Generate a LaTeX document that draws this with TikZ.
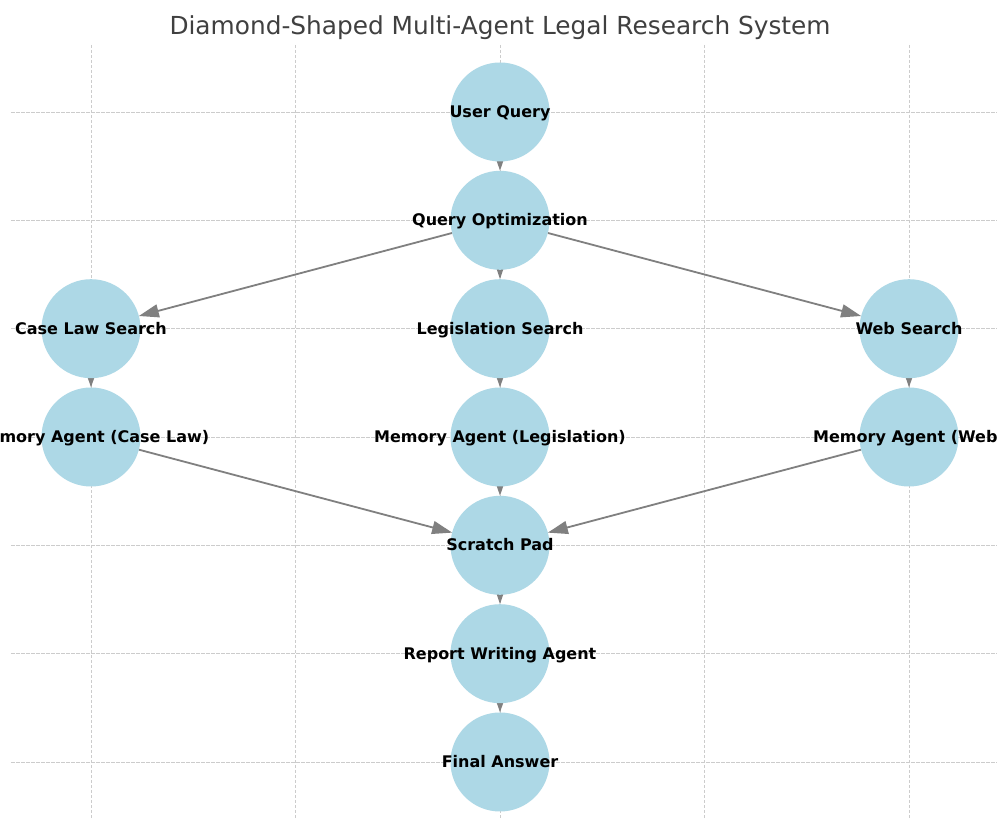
\documentclass[tikz,border=0pt]{standalone}
\usepackage{fontspec}
\setmainfont{DejaVu Sans}
\usetikzlibrary{arrows.meta}
\pgfdeclarelayer{bg}
\pgfsetlayers{bg,main}
\definecolor{nodeblue}{RGB}{173,216,230}
\definecolor{edgegray}{RGB}{128,128,128}
\definecolor{gridgray}{RGB}{204,204,204}
\definecolor{titlegray}{RGB}{64,64,64}
\tikzset{
  agent/.style={circle, fill=nodeblue, minimum size=99pt, inner sep=0pt, outer sep=0pt,
    label={[agenttext]center:#1}},
  agenttext/.style={text height=11pt, text depth=0pt, inner sep=0pt, outer sep=0pt,
    font=\fontsize{16}{19}\selectfont\bfseries},
  flow/.style={draw=edgegray, line width=1.8pt, -{Triangle[length=20pt,width=13pt]}},
  gridline/.style={draw=gridgray, line width=0.8pt, dash pattern=on 3.5pt off 1.5pt},
  titletext/.style={text=titlegray, font=\fontsize{24.8}{29}\selectfont},
}
\begin{document}
\begin{tikzpicture}[x=1pt,y=1pt]
\useasboundingbox (0,0) rectangle (997,819);
\clip (0,0) rectangle (997,819);

\node[titletext] (title) at (500,791) {Diamond-Shaped Multi-Agent Legal Research System};

% nodes (y = 819 - pixel row)
\node[agent={User Query}] (uq) at (500,707) {};
\node[agent={Query Optimization}] (qo) at (500,598.7) {};
\node[agent={Case Law Search}] (cl) at (91,490.3) {};
\node[agent={Legislation Search}] (ls) at (500,490.3) {};
\node[agent={Web Search}] (ws) at (909,490.3) {};
\node[agent={Memory Agent (Case Law)}] (mc) at (91,382) {};
\node[agent={Memory Agent (Legislation)}] (ml) at (500,382) {};
\node[agent={Memory Agent (Web)}] (mw) at (909,382) {};
\node[agent={Scratch Pad}] (sp) at (500,273.7) {};
\node[agent={Report Writing Agent}] (rw) at (500,165.3) {};
\node[agent={Final Answer}] (fa) at (500,57) {};

\begin{pgfonlayer}{bg}
  \fill[white] (0,0) rectangle (997,819);
  \foreach \gx in {91,295.5,500,704.5,909}
    \draw[gridline] (\gx,774) -- (\gx,0);
  \foreach \gy in {707,598.7,490.3,382,273.7,165.3,57}
    \draw[gridline] (11,\gy) -- (997,\gy);
  \draw[flow] (uq) -- (qo);
  \draw[flow] (qo) -- (cl);
  \draw[flow] (qo) -- (ls);
  \draw[flow] (qo) -- (ws);
  \draw[flow] (cl) -- (mc);
  \draw[flow] (ls) -- (ml);
  \draw[flow] (ws) -- (mw);
  \draw[flow] (mc) -- (sp);
  \draw[flow] (ml) -- (sp);
  \draw[flow] (mw) -- (sp);
  \draw[flow] (sp) -- (rw);
  \draw[flow] (rw) -- (fa);
\end{pgfonlayer}
\end{tikzpicture}
\end{document}
